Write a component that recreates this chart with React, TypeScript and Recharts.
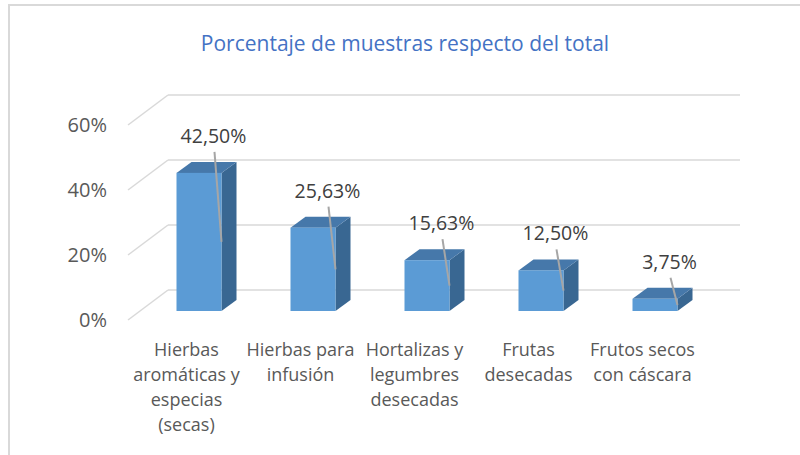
import { BarChart, Bar, XAxis, YAxis, CartesianGrid } from "recharts";

const categories = [
  "Hierbas aromáticas y especias (secas)",
  "Hierbas para infusión",
  "Hortalizas y legumbres desecadas",
  "Frutas desecadas",
  "Frutos secos con cáscara",
];
const tickLines = [
  ["Hierbas", "aromáticas y", "especias", "(secas)"],
  ["Hierbas para", "infusión"],
  ["Hortalizas y", "legumbres", "desecadas"],
  ["Frutas", "desecadas"],
  ["Frutos secos", "con cáscara"],
];
const percentages = [42.5, 25.63, 15.63, 12.5, 3.75];
const yTicks = [0, 20, 40, 60];

const data = categories.map((c, i) => ({ name: c, idx: i, value: percentages[i] }));

const FONT = "'Open Sans', sans-serif";
const GRID = "#D9D9D9";
const TEXT = "#595959";
const fmt = (v: number) => v.toFixed(2).replace(".", ",") + "%";

// 3d box: front face + top + right side
function Bar3D(props: any) {
  const { x, y, width, height, value } = props;
  const dx = 15;
  const dy = -11;
  const r = x + width;
  const b = y + height;
  const lx = r - 8;
  return (
    <g>
      <polygon points={`${r},${y} ${r + dx},${y + dy} ${r + dx},${b + dy} ${r},${b}`} fill="#396792" />
      <polygon points={`${x},${y} ${x + dx},${y + dy} ${r + dx},${y + dy} ${r},${y}`} fill="#4678AA" />
      <rect x={x} y={y} width={width} height={height} fill="#5B9BD5" />
      <line x1={lx + 1} y1={y - 21} x2={r} y2={y + height / 2} stroke="#A6A6A6" strokeWidth={2} />
      <text x={lx} y={y - 30} textAnchor="middle" fontFamily={FONT} fontSize={19.5} fill="#404040">
        {fmt(value)}
      </text>
    </g>
  );
}

function GridLine(p: any) {
  const y = p.y1;
  return (
    <g key={p.key}>
      <line x1={128} y1={y + 9} x2={168} y2={y - 21} stroke={GRID} strokeWidth={1.5} />
      <line x1={168} y1={y - 21} x2={740} y2={y - 21} stroke={GRID} strokeWidth={1.5} />
    </g>
  );
}

function YTick(props: any) {
  const { y, payload } = props;
  return (
    <text x={107} y={y + 16} textAnchor="end" fontFamily={FONT} fontSize={20} fill={TEXT}>
      {payload.value}%
    </text>
  );
}

function XTick(props: any) {
  const { x, payload } = props;
  const lines = tickLines[payload.index] || [];
  return (
    <text textAnchor="middle" fontFamily={FONT} fontSize={18} fill={TEXT}>
      {lines.map((l, i) => (
        <tspan key={i} x={x - 12} y={356 + i * 25}>
          {l}
        </tspan>
      ))}
    </text>
  );
}

export default function App() {
  return (
    <div style={{ position: "absolute", left: 0, top: 0, width: 800, height: 455, background: "#fff", overflow: "hidden" }}>
      <div
        style={{
          position: "absolute",
          left: 8,
          top: 4,
          width: 820,
          height: 480,
          border: "2px solid #D9D9D9",
        }}
      />
      <div
        style={{
          position: "absolute",
          left: 0,
          width: 810,
          top: 30,
          textAlign: "center",
          fontFamily: FONT,
          fontSize: 21,
          lineHeight: "26px",
          color: "#4472C4",
        }}
      >
        Porcentaje de muestras respecto del total
      </div>
      <BarChart
        width={800}
        height={455}
        data={data}
        margin={{ top: 116, right: 88.5, left: 81.5, bottom: 24 }}
        barSize={45}
        style={{ position: "absolute", left: 0, top: 0 }}
      >
        <CartesianGrid vertical={false} horizontal={GridLine} />
        <XAxis dataKey="name" height={120} axisLine={false} tickLine={false} interval={0} tick={<XTick />} />
        <YAxis
          width={60}
          domain={[0, 60]}
          ticks={yTicks}
          axisLine={false}
          tickLine={false}
          tick={<YTick />}
        />
        <Bar dataKey="value" shape={<Bar3D />} isAnimationActive={false} />
      </BarChart>
    </div>
  );
}
